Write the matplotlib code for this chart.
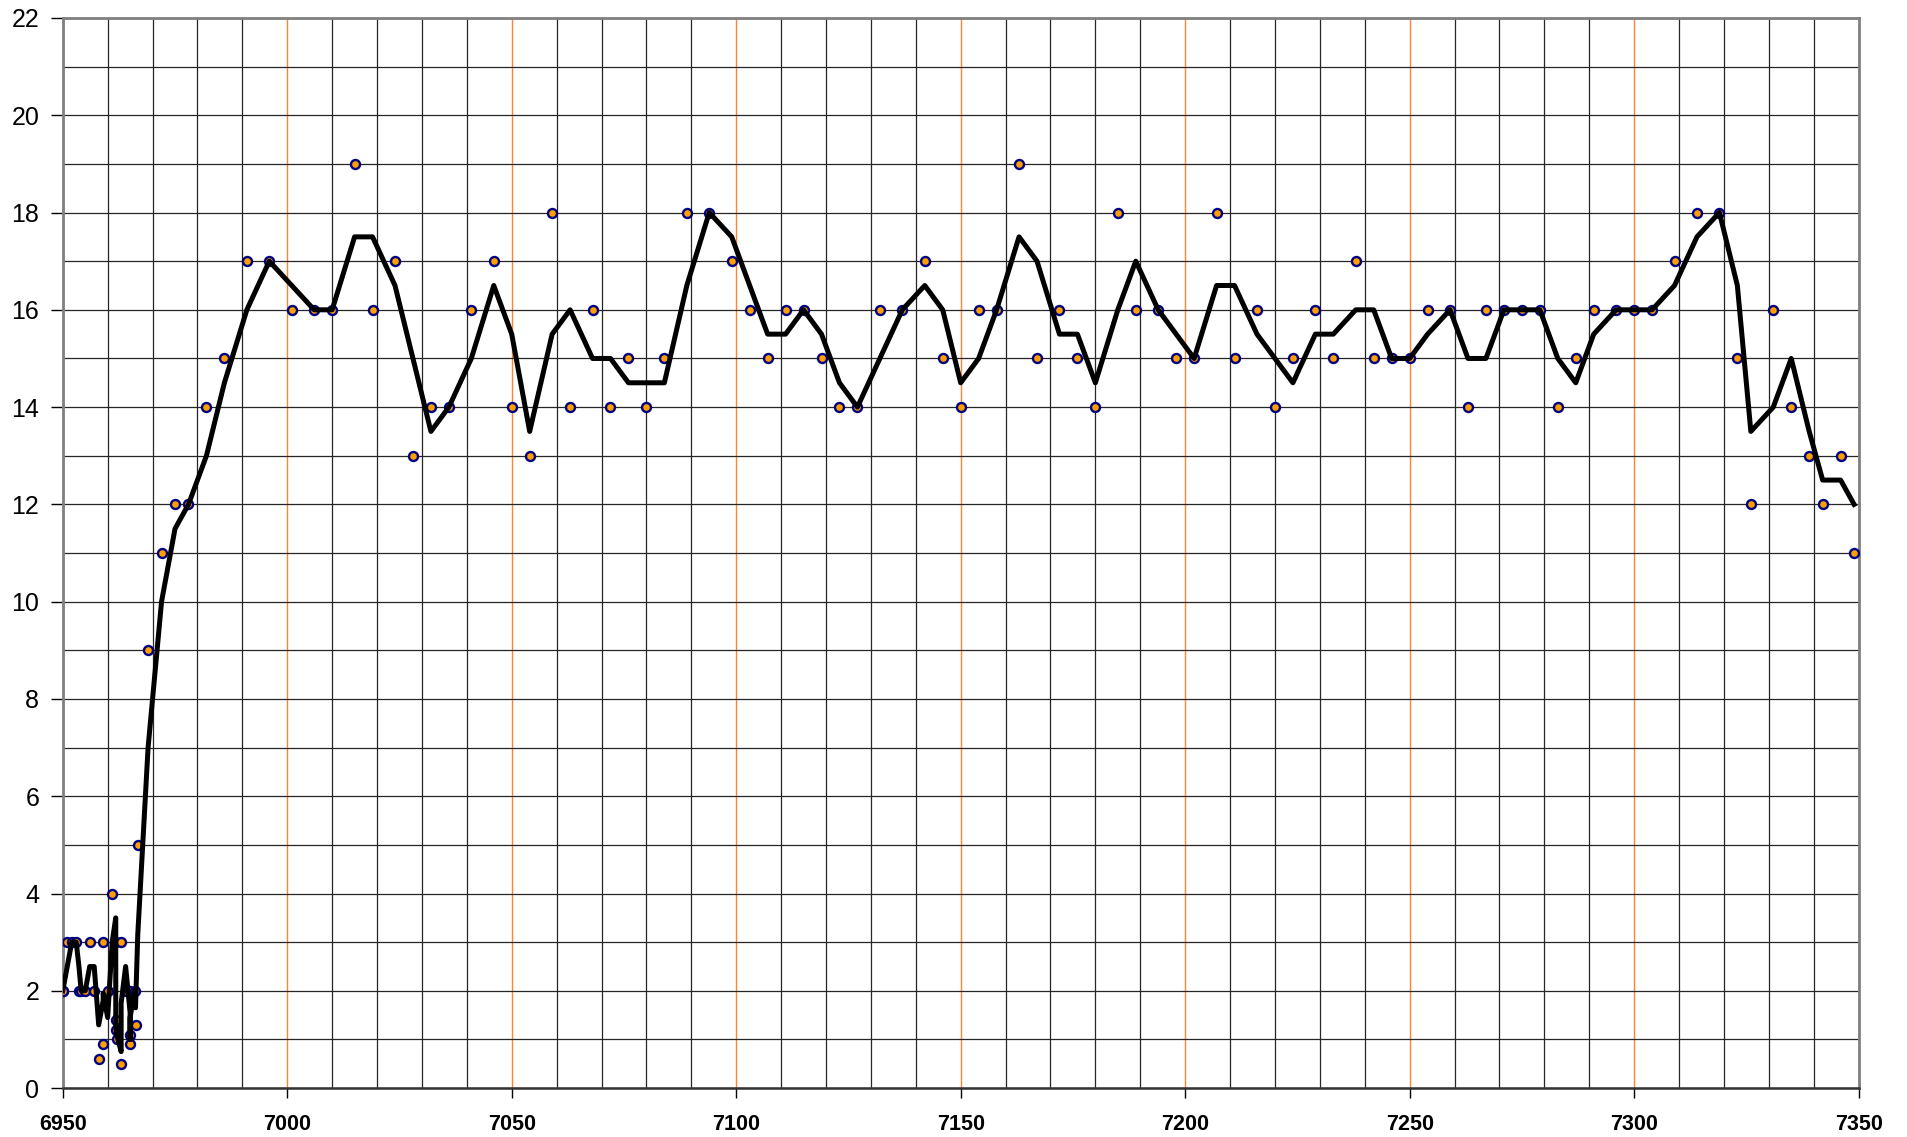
import matplotlib
matplotlib.use("Agg")
import matplotlib.pyplot as plt
from matplotlib.ticker import MultipleLocator
import pandas as pd

plt.rcParams['font.family'] = ['Liberation Sans', 'DejaVu Sans']

# measured points (data order)
x_pts = [6950, 6950, 6951, 6952, 6953, 6953.6, 6954.1, 6955, 6956, 6957, 6958,
         6959, 6959, 6960, 6961, 6961.8, 6961.8, 6961.8, 6962, 6963, 6963,
         6964, 6965, 6965, 6965, 6966, 6966.2, 6966.7,
         6969, 6972, 6975, 6978, 6982, 6986, 6991, 6996, 7001, 7006,
         7010, 7015, 7019, 7024, 7028, 7032, 7036, 7041, 7046, 7050,
         7054, 7059, 7063, 7068, 7072, 7076, 7080, 7084, 7089, 7094,
         7099, 7103, 7107, 7111, 7115, 7119, 7123, 7127, 7132, 7137,
         7142, 7146, 7150, 7154, 7158, 7163, 7167, 7172, 7176, 7180,
         7185, 7189, 7194, 7198, 7202, 7207, 7211, 7216, 7220, 7224,
         7229, 7233, 7238, 7242, 7246, 7250, 7254, 7259, 7263, 7267,
         7271, 7275, 7279, 7283, 7287, 7291, 7296, 7300, 7304, 7309,
         7314, 7319, 7323, 7326, 7331, 7335, 7339, 7342, 7346, 7349]
y_pts = [2, 2, 3, 3, 3, 2, 2, 2, 3, 2, 0.6,
         3, 0.9, 2, 4, 3, 1.4, 1.2, 1.0, 0.5, 3,
         2, 1.1, 0.9, 2, 2, 1.3, 5,
         9, 11, 12, 12, 14, 15, 17, 17, 16, 16,
         16, 19, 16, 17, 13, 14, 14, 16, 17, 14,
         13, 18, 14, 16, 14, 15, 14, 15, 18, 18,
         17, 16, 15, 16, 16, 15, 14, 14, 16, 16,
         17, 15, 14, 16, 16, 19, 15, 16, 15, 14,
         18, 16, 16, 15, 15, 18, 15, 16, 14, 15,
         16, 15, 17, 15, 15, 15, 16, 16, 14, 16,
         16, 16, 16, 14, 15, 16, 16, 16, 16, 17,
         18, 18, 15, 12, 16, 14, 13, 12, 13, 11]

x_ticks = list(range(6950, 7351, 50))
y_ticks = list(range(0, 23, 2))

df = pd.DataFrame({"x": x_pts, "y": y_pts})
# 2-period moving average trendline
df["ma"] = df["y"].rolling(2).mean()

fig = plt.figure(figsize=(19.08, 11.37), dpi=100)
ax = fig.add_axes([0.0329, 0.043, 0.9412, 0.9412])

ax.scatter(df["x"], df["y"], s=42, facecolor="#FFA000", edgecolor="#000080",
           linewidth=1.7, zorder=3)
ax.plot(df["x"], df["ma"], color="black", linewidth=3.6, zorder=4)

ax.set_xlim(6950, 7350)
ax.set_ylim(0, 22)
ax.set_xticks(x_ticks)
ax.set_yticks(y_ticks)
ax.xaxis.set_minor_locator(MultipleLocator(10))
ax.yaxis.set_minor_locator(MultipleLocator(1))

ax.grid(which="major", axis="x", color="#FF8533", linewidth=1.0, zorder=1)
ax.grid(which="minor", axis="x", color="#262626", linewidth=0.9, zorder=1)
ax.grid(which="both", axis="y", color="#262626", linewidth=0.9, zorder=1)
ax.set_axisbelow(True)

ax.tick_params(axis="x", which="major", direction="out", length=7, width=1,
               pad=12, labelsize=15.5)
ax.tick_params(axis="y", which="major", direction="out", length=9, width=1,
               pad=8, labelsize=18)
ax.tick_params(which="minor", length=0)
for lab in ax.get_xticklabels():
    lab.set_fontweight("bold")

for side in ["left", "top", "right"]:
    ax.spines[side].set_color("#808080")
    ax.spines[side].set_linewidth(2)
ax.spines["bottom"].set_color("#333333")
ax.spines["bottom"].set_linewidth(1.8)

fig.savefig("out.png", dpi=100)
